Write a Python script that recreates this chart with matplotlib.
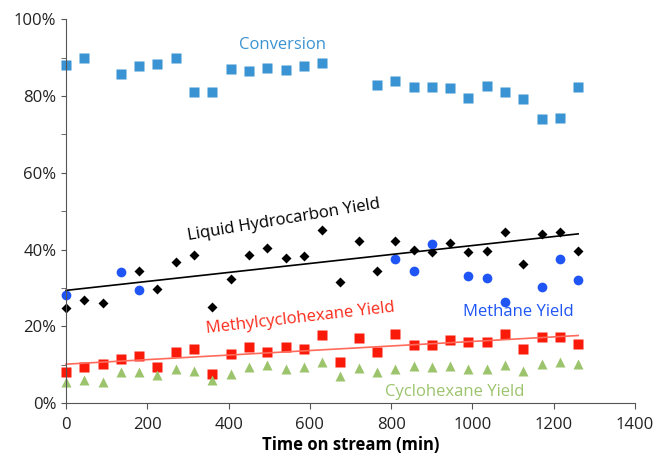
import numpy as np
import matplotlib
matplotlib.use("Agg")
import matplotlib.pyplot as plt
from matplotlib.ticker import MultipleLocator, FuncFormatter

plt.rcParams['font.family'] = ['Open Sans', 'DejaVu Sans']

# time on stream (min), one sample every 45 min
t = np.arange(0, 1261, 45)

conv_t = [0, 45, 135, 180, 225, 270, 315, 360, 405, 450, 495, 540, 585, 630,
          765, 810, 855, 900, 945, 990, 1035, 1080, 1125, 1170, 1215, 1260]
conversion = [88.1, 90.0, 85.6, 87.9, 88.4, 90.0, 81.1, 81.1, 87.0, 86.4, 87.2, 86.8, 87.7, 88.7,
              82.8, 84.0, 82.2, 82.3, 82.1, 79.5, 82.7, 81.0, 79.2, 74.1, 74.3, 82.3]

liq_t = [0, 45, 90, 180, 225, 270, 315, 360, 405, 450, 495, 540, 585, 630,
         675, 720, 765, 810, 855, 900, 945, 990, 1035, 1080, 1125, 1170, 1215, 1260]
liquid = [24.9, 26.8, 26.1, 34.4, 29.6, 36.7, 38.6, 25.0, 32.3, 38.5, 40.5, 37.9, 38.3, 45.1,
          31.6, 42.2, 34.4, 42.2, 39.9, 39.3, 41.6, 39.3, 39.6, 44.6, 36.3, 44.1, 44.6, 39.5]

meth_t = [0, 135, 180, 810, 855, 900, 990, 1035, 1080, 1170, 1215, 1260]
methane = [28.2, 34.1, 29.4, 37.5, 34.3, 41.5, 33.0, 32.7, 26.3, 30.3, 37.5, 32.0]

mch = [8.1, 9.4, 10.2, 11.4, 12.4, 9.4, 13.4, 14.1, 7.6, 12.7, 14.7, 13.4, 14.5, 14.1, 17.7,
       10.7, 16.9, 13.3, 17.9, 15.1, 15.1, 16.5, 15.9, 15.8, 18.1, 14.2, 17.2, 17.1, 15.5]

ch = [5.5, 5.9, 5.5, 8.1, 8.1, 7.3, 8.8, 8.4, 5.9, 7.6, 9.3, 9.9, 9.0, 9.3, 10.7,
      7.0, 9.2, 8.1, 9.0, 9.7, 9.4, 9.7, 8.8, 9.0, 9.9, 8.4, 10.1, 10.7, 10.1]

fig = plt.figure(figsize=(6.54, 4.55), dpi=100)
ax = fig.add_axes([0.101, 0.114, 0.870, 0.844])

ax.plot(conv_t, conversion, 's', color='#3a93d2', ms=7.2, mec='none')
ax.plot(liq_t, liquid, 'D', color='black', ms=5.5, mec='none')
ax.plot(meth_t, methane, 'o', color='#1f55f5', ms=7, mec='none')
ax.plot(t, mch, 's', color='#fa1a0a', ms=7, mec='none')
ax.plot(t, ch, '^', color='#9cc46c', ms=7.5, mec='none')

# linear trend lines
p = np.polyfit(liq_t, liquid, 1)
ax.plot([0, 1260], np.polyval(p, [0, 1260]), color='black', lw=1.2)
p = np.polyfit(t, mch, 1)
ax.plot([0, 1260], np.polyval(p, [0, 1260]), color='#ff6a5a', lw=1.2)

ax.text(532, 93.3, 'Conversion', color='#3a93d2', fontsize=12, ha='center', va='center')
ax.text(535, 47.6, 'Liquid Hydrocarbon Yield', color='black', fontsize=12,
        ha='center', va='center', rotation=9.5)
ax.text(577, 22.2, 'Methylcyclohexane Yield', color='#fa2a1a', fontsize=12,
        ha='center', va='center', rotation=6.5)
ax.text(1112, 23.8, 'Methane Yield', color='#1f55f5', fontsize=12, ha='center', va='center')
ax.text(957, 2.9, 'Cyclohexane Yield', color='#9cc46c', fontsize=12, ha='center', va='center')

ax.set_xlim(0, 1400)
ax.set_ylim(0, 100)
ax.xaxis.set_major_locator(MultipleLocator(200))
ax.yaxis.set_major_locator(MultipleLocator(20))
ax.yaxis.set_minor_locator(MultipleLocator(10))
ax.yaxis.set_major_formatter(FuncFormatter(lambda v, pos: '%d%%' % v))
ax.set_xlabel('Time on stream (min)', fontsize=12, fontweight='bold', labelpad=2)

for s in ['top', 'right']:
    ax.spines[s].set_visible(False)
for s in ['left', 'bottom']:
    ax.spines[s].set_color('#555555')
ax.tick_params(which='both', color='#555555', labelsize=12, labelcolor='#222222')
ax.tick_params(axis='y', which='minor', length=3.5)
ax.tick_params(axis='y', which='major', length=3.5)
ax.tick_params(axis='x', length=4, pad=6)
for ln in ax.lines:
    ln.set_clip_on(False)

fig.savefig('out.png', dpi=100)
